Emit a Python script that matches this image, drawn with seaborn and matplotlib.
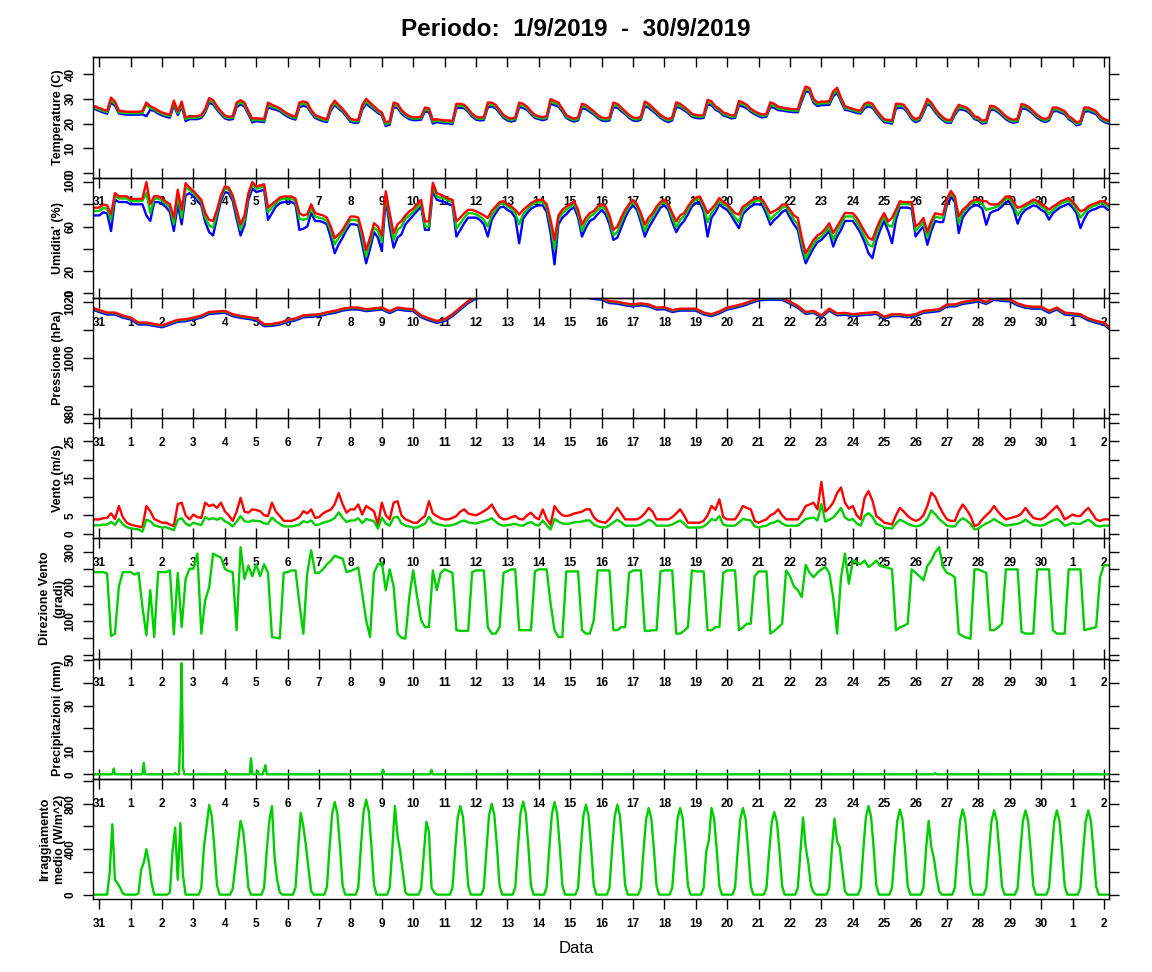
import numpy as np
import matplotlib
matplotlib.use('Agg')
import matplotlib.pyplot as plt
import seaborn as sns

sns.set_theme(style='ticks')
plt.rcParams['font.family'] = ['Liberation Sans', 'DejaVu Sans']
plt.rcParams['font.weight'] = 'bold'
plt.rcParams['text.color'] = 'black'
plt.rcParams['axes.labelcolor'] = 'black'
plt.rcParams['xtick.color'] = 'black'
plt.rcParams['ytick.color'] = 'black'

# giorni contati dal 31/8/2019 00:00
t3 = np.arange(-0.25, 32.25 + 1e-9, 0.125)    # ogni 3 ore
t6 = np.arange(-0.25, 32.25 + 1e-9, 0.25)     # ogni 6 ore
day_labels = ['31'] + [str(d) for d in range(1, 31)] + ['1', '2']

# ---- Temperatura (C), righe = giorni, ore 0,3,6,...,21 ----
temp_max = [27.2, 27.0,
    26.3, 25.7, 25.2, 30.5, 28.9, 25.3, 25.0, 24.8,
    24.8, 24.8, 24.8, 25.0, 28.5, 27.0, 26.3, 25.3,
    24.5, 24.0, 23.6, 29.3, 25.0, 28.9, 22.5, 23.0,
    23.0, 23.0, 23.5, 26.0, 30.3, 29.5, 27.0, 25.0,
    23.3, 22.8, 23.0, 28.5, 29.5, 28.5, 25.0, 22.0,
    22.2, 22.0, 21.8, 28.5, 27.6, 27.0, 26.2, 25.0,
    24.0, 23.3, 22.8, 28.5, 29.0, 28.5, 25.5, 23.5,
    22.8, 22.2, 21.8, 27.0, 29.3, 27.5, 26.0, 24.0,
    22.0, 21.5, 21.6, 27.5, 30.0, 28.5, 27.0, 25.5,
    24.5, 20.5, 21.0, 28.5, 28.0, 25.5, 24.0, 23.0,
    22.6, 22.6, 22.8, 26.5, 26.2, 21.5, 21.8, 21.5,
    21.3, 21.3, 21.0, 28.0, 28.0, 27.6, 26.0, 24.0,
    22.8, 22.5, 22.6, 28.5, 28.5, 27.6, 25.5, 23.5,
    22.5, 22.0, 22.5, 28.5, 28.0, 26.9, 25.0, 23.5,
    23.0, 22.6, 23.0, 29.9, 29.2, 28.5, 26.0, 23.5,
    22.6, 22.0, 22.5, 28.0, 27.5, 26.2, 25.0, 23.5,
    22.5, 22.2, 22.5, 28.5, 28.0, 26.5, 25.0, 23.5,
    22.5, 22.2, 22.8, 28.9, 28.0, 26.5, 25.0, 23.5,
    22.5, 21.8, 22.5, 28.6, 28.0, 26.8, 25.5, 24.0,
    23.5, 23.3, 23.5, 29.6, 29.0, 27.0, 26.0, 24.5,
    24.0, 23.3, 23.5, 29.2, 28.5, 27.6, 26.0, 25.0,
    24.2, 23.7, 24.0, 28.6, 28.0, 26.8, 26.5, 26.2,
    26.0, 25.8, 25.8, 31.0, 35.0, 34.3, 30.0, 28.5,
    28.9, 28.9, 29.0, 33.0, 34.5, 30.5, 27.0, 26.5,
    26.0, 25.5, 25.3, 28.0, 28.6, 28.0, 25.5, 23.5,
    21.8, 21.5, 21.2, 28.0, 28.0, 27.6, 25.5, 23.0,
    21.8, 22.5, 26.0, 30.0, 28.5, 26.0, 24.0, 22.5,
    21.5, 21.5, 25.0, 27.6, 27.0, 26.5, 25.0, 23.0,
    22.5, 21.2, 21.5, 27.2, 27.0, 26.0, 24.5, 23.0,
    22.0, 21.5, 22.0, 27.9, 27.5, 26.5, 25.0, 23.5,
    22.5, 21.8, 22.5, 26.5, 26.5, 25.8, 25.0, 23.0,
    22.0, 20.5, 21.0, 26.5, 26.5, 25.8, 25.0, 23.0,
    21.9, 21.3, 21.0]
temp_mean = [26.6, 26.4,
    25.7, 25.1, 24.6, 29.4, 28.0, 24.7, 24.4, 24.2,
    24.2, 24.2, 24.2, 24.4, 27.4, 26.3, 25.7, 24.7,
    23.9, 23.4, 23.0, 28.2, 24.2, 27.8, 21.8, 22.4,
    22.4, 22.4, 22.9, 25.3, 29.3, 28.6, 26.3, 24.4,
    22.7, 22.2, 22.4, 27.5, 28.6, 27.6, 24.4, 21.3,
    21.6, 21.4, 21.2, 27.5, 26.8, 26.3, 25.6, 24.4,
    23.4, 22.7, 22.2, 27.5, 28.1, 27.6, 24.9, 22.9,
    22.2, 21.6, 21.2, 26.1, 28.4, 26.7, 25.4, 23.4,
    21.4, 20.9, 21.0, 26.5, 29.0, 27.6, 26.3, 24.9,
    23.9, 19.7, 20.3, 27.5, 27.2, 24.8, 23.4, 22.4,
    22.0, 22.0, 22.2, 25.7, 25.4, 20.8, 21.2, 20.9,
    20.7, 20.7, 20.4, 27.1, 27.2, 26.9, 25.4, 23.4,
    22.2, 21.9, 22.0, 27.5, 27.7, 26.9, 24.9, 22.9,
    21.9, 21.4, 21.9, 27.5, 27.2, 26.2, 24.4, 22.9,
    22.4, 22.0, 22.4, 28.9, 28.3, 27.7, 25.4, 22.9,
    22.0, 21.4, 21.9, 27.1, 26.7, 25.5, 24.4, 22.9,
    21.9, 21.6, 21.9, 27.5, 27.2, 25.8, 24.4, 22.9,
    21.9, 21.6, 22.2, 27.9, 27.2, 25.8, 24.4, 22.9,
    21.9, 21.2, 21.9, 27.6, 27.2, 26.1, 24.9, 23.4,
    22.9, 22.7, 22.9, 28.6, 28.2, 26.3, 25.4, 23.9,
    23.4, 22.7, 22.9, 28.2, 27.7, 26.9, 25.4, 24.4,
    23.6, 23.1, 23.4, 27.6, 27.2, 26.1, 25.9, 25.6,
    25.4, 25.2, 25.2, 30.0, 34.0, 33.4, 29.2, 27.8,
    28.2, 28.2, 28.3, 32.0, 33.5, 29.6, 26.3, 25.9,
    25.4, 24.9, 24.7, 27.1, 27.8, 27.2, 24.9, 22.9,
    21.2, 20.9, 20.6, 27.0, 27.2, 26.9, 24.9, 22.4,
    21.2, 21.9, 25.2, 29.0, 27.7, 25.3, 23.4, 21.9,
    20.9, 20.9, 24.2, 26.7, 26.3, 25.8, 24.4, 22.4,
    21.9, 20.6, 20.9, 26.3, 26.3, 25.3, 23.9, 22.4,
    21.4, 20.9, 21.4, 27.0, 26.8, 25.8, 24.4, 22.9,
    21.9, 21.2, 21.9, 25.7, 25.8, 25.1, 24.4, 22.4,
    21.4, 19.9, 20.4, 25.6, 25.8, 25.1, 24.4, 22.4,
    21.3, 20.7, 20.4]
temp_min = [26.0, 25.8,
    25.1, 24.5, 24.0, 28.5, 27.2, 24.1, 23.8, 23.6,
    23.6, 23.6, 23.6, 23.8, 23.0, 25.6, 25.1, 24.1,
    23.3, 22.8, 22.4, 27.4, 23.5, 27.0, 21.0, 21.8,
    21.8, 21.8, 22.3, 24.6, 28.4, 27.8, 25.6, 23.8,
    22.1, 21.6, 21.8, 26.6, 27.8, 26.8, 23.8, 20.5,
    21.0, 20.8, 20.6, 26.6, 26.0, 25.6, 25.0, 23.8,
    22.8, 22.1, 21.6, 26.6, 27.2, 26.8, 24.3, 22.3,
    21.6, 21.0, 20.6, 25.3, 27.6, 26.0, 24.8, 22.8,
    20.8, 20.3, 20.4, 25.6, 28.1, 26.8, 25.6, 24.3,
    23.3, 19.0, 19.6, 26.6, 26.4, 24.1, 22.8, 21.8,
    21.4, 21.4, 21.6, 24.9, 24.6, 20.0, 20.6, 20.3,
    20.1, 20.1, 19.8, 26.2, 26.4, 26.2, 24.8, 22.8,
    21.6, 21.3, 21.4, 26.6, 26.9, 26.2, 24.3, 22.3,
    21.3, 20.8, 21.3, 26.6, 26.4, 25.5, 23.8, 22.3,
    21.8, 21.4, 21.8, 28.0, 27.5, 26.9, 24.8, 22.3,
    21.4, 20.8, 21.3, 26.2, 25.9, 24.8, 23.8, 22.3,
    21.3, 21.0, 21.3, 26.6, 26.4, 25.1, 23.8, 22.3,
    21.3, 21.0, 21.6, 27.0, 26.4, 25.1, 23.8, 22.3,
    21.3, 20.6, 21.3, 26.7, 26.4, 25.4, 24.3, 22.8,
    22.3, 22.1, 22.3, 27.7, 27.4, 25.6, 24.8, 23.3,
    22.8, 22.1, 22.3, 27.3, 26.9, 26.2, 24.8, 23.8,
    23.0, 22.5, 22.8, 26.7, 26.4, 25.4, 25.3, 25.0,
    24.8, 24.6, 24.6, 29.0, 33.1, 32.6, 28.4, 27.1,
    27.5, 27.5, 27.6, 31.0, 32.6, 28.8, 25.6, 25.3,
    24.8, 24.3, 24.1, 26.2, 27.0, 26.4, 24.3, 22.3,
    20.6, 20.3, 20.0, 26.1, 26.4, 26.2, 24.3, 21.8,
    20.6, 21.3, 24.4, 28.1, 26.9, 24.6, 22.8, 21.3,
    20.3, 20.3, 23.5, 25.8, 25.6, 25.1, 23.8, 21.8,
    21.3, 20.0, 20.3, 25.4, 25.6, 24.6, 23.3, 21.8,
    20.8, 20.3, 20.8, 26.1, 26.0, 25.1, 23.8, 22.3,
    21.3, 20.6, 21.3, 24.9, 25.1, 24.4, 23.8, 21.8,
    20.8, 19.3, 19.8, 24.7, 25.1, 24.4, 23.8, 21.8,
    20.7, 20.1, 19.8]

# ---- Umidita' (%) ----
hum_max = [76.7, 77.0,
    77.0, 79.7, 79.0, 71.0, 90.0, 87.2, 87.2, 87.2,
    84.8, 84.8, 84.8, 85.0, 100.0, 80.0, 87.2, 87.2,
    85.4, 82.4, 80.0, 68.0, 93.0, 75.0, 99.0, 95.0,
    92.0, 88.0, 84.0, 72.0, 66.0, 65.0, 75.0, 88.0,
    96.0, 95.0, 88.0, 75.0, 62.0, 70.0, 90.0, 100.0,
    96.0, 97.0, 98.0, 77.0, 80.0, 83.0, 86.0, 87.0,
    87.0, 87.0, 85.0, 72.0, 70.0, 71.0, 80.0, 72.0,
    71.0, 70.0, 68.0, 60.0, 49.6, 53.0, 57.0, 63.0,
    69.0, 69.0, 68.0, 55.0, 39.0, 50.0, 63.0, 60.0,
    52.0, 91.7, 72.0, 54.0, 62.0, 65.0, 70.0, 73.6,
    76.0, 80.0, 84.0, 64.6, 64.6, 99.3, 90.0, 88.7,
    87.0, 85.0, 84.0, 64.6, 68.0, 72.0, 75.0, 75.0,
    73.7, 72.0, 70.0, 67.7, 74.0, 78.0, 82.0, 82.7,
    80.0, 78.0, 75.0, 70.7, 75.0, 78.0, 81.0, 83.0,
    84.0, 84.0, 80.0, 66.0, 48.0, 70.0, 75.0, 78.0,
    80.0, 82.7, 75.0, 61.6, 68.0, 72.0, 74.0, 78.0,
    80.0, 78.0, 70.0, 57.0, 60.0, 68.0, 75.0, 80.0,
    84.0, 80.0, 72.0, 61.6, 68.0, 72.0, 78.0, 82.0,
    84.0, 80.0, 72.0, 64.6, 70.0, 72.0, 78.0, 83.0,
    86.0, 87.0, 80.0, 72.0, 76.0, 80.0, 85.7, 82.0,
    80.0, 76.0, 72.0, 70.7, 78.0, 80.0, 83.0, 85.0,
    85.7, 84.0, 78.0, 72.0, 74.0, 76.0, 79.7, 80.0,
    75.0, 70.0, 67.7, 50.0, 36.0, 42.0, 48.0, 52.0,
    54.2, 58.0, 63.0, 54.2, 60.0, 66.0, 72.2, 72.0,
    72.0, 68.0, 62.0, 55.6, 50.0, 48.0, 58.0, 66.0,
    72.0, 64.6, 67.7, 75.0, 82.7, 82.0, 82.0, 82.0,
    60.0, 63.0, 67.7, 55.0, 65.0, 72.0, 71.0, 70.7,
    85.0, 92.0, 87.0, 69.0, 75.0, 78.0, 82.0, 84.0,
    84.2, 83.0, 82.7, 80.0, 79.7, 80.0, 83.0, 87.0,
    87.2, 82.0, 76.7, 78.0, 80.0, 82.0, 84.2, 83.0,
    80.0, 78.0, 75.2, 78.0, 80.0, 82.7, 84.0, 85.7,
    82.0, 78.0, 73.7, 75.0, 78.2, 80.0, 81.0, 82.7,
    82.7, 80.0, 79.7]
hum_mean = [73.7, 74.0,
    74.0, 76.7, 76.0, 66.0, 88.0, 85.2, 85.2, 85.2,
    82.8, 82.8, 82.8, 83.0, 90.0, 72.0, 85.2, 85.2,
    83.4, 80.4, 77.0, 62.0, 88.0, 68.0, 95.0, 93.0,
    90.0, 86.0, 82.0, 68.0, 61.0, 59.0, 72.0, 86.0,
    94.0, 93.0, 86.0, 72.0, 57.0, 66.0, 88.0, 98.0,
    94.0, 95.0, 96.0, 73.0, 77.0, 81.0, 84.0, 85.0,
    85.0, 85.0, 83.0, 67.0, 66.0, 67.0, 77.0, 69.0,
    68.0, 67.0, 65.0, 56.0, 44.0, 50.0, 54.0, 60.0,
    66.0, 66.0, 65.0, 50.0, 33.0, 46.0, 59.0, 56.0,
    46.0, 89.0, 67.0, 48.0, 57.0, 60.0, 67.0, 70.0,
    73.0, 77.0, 81.0, 60.0, 60.0, 96.0, 87.0, 86.0,
    85.0, 83.0, 82.0, 58.0, 63.0, 68.0, 72.0, 72.0,
    71.0, 69.0, 66.0, 60.0, 70.0, 75.0, 80.0, 81.0,
    78.0, 76.0, 72.0, 62.0, 71.0, 75.0, 79.0, 81.0,
    82.0, 82.0, 77.0, 61.0, 40.0, 67.0, 72.0, 75.0,
    78.0, 80.5, 72.0, 56.0, 64.0, 69.0, 71.0, 75.0,
    78.0, 75.0, 66.0, 52.0, 55.0, 64.0, 72.0, 78.0,
    82.0, 78.0, 68.0, 56.0, 64.0, 69.0, 75.0, 80.0,
    82.0, 78.0, 68.0, 59.0, 66.0, 69.0, 75.0, 81.0,
    84.0, 85.0, 77.0, 64.0, 72.0, 77.0, 83.0, 80.0,
    78.0, 73.0, 68.0, 64.0, 75.0, 78.0, 81.0, 83.0,
    83.5, 82.0, 75.0, 66.0, 70.0, 73.0, 77.0, 78.0,
    72.0, 66.0, 62.0, 45.0, 31.0, 38.0, 44.0, 49.0,
    51.0, 55.0, 60.0, 48.0, 56.0, 62.0, 69.0, 69.0,
    69.0, 64.0, 58.0, 51.0, 44.0, 42.0, 53.0, 62.0,
    69.0, 61.0, 60.0, 71.0, 80.5, 80.0, 80.0, 80.0,
    56.0, 60.0, 64.0, 50.0, 61.0, 69.0, 68.0, 68.0,
    83.0, 90.0, 85.0, 63.0, 72.0, 76.0, 80.0, 82.0,
    82.0, 80.0, 75.0, 76.0, 77.0, 78.0, 81.0, 85.0,
    85.0, 79.0, 70.0, 75.0, 78.0, 80.0, 82.0, 81.0,
    78.0, 76.0, 71.0, 75.0, 78.0, 80.5, 82.0, 83.5,
    80.0, 75.0, 68.0, 72.0, 76.0, 78.0, 79.0, 81.0,
    81.0, 78.0, 77.5]
hum_min = [69.7, 70.0,
    70.0, 72.7, 72.0, 56.0, 84.0, 82.0, 82.0, 82.0,
    80.0, 80.0, 80.0, 80.0, 70.0, 65.0, 82.0, 82.0,
    80.5, 77.5, 73.0, 56.0, 80.0, 62.0, 88.0, 90.0,
    87.0, 83.0, 79.0, 64.0, 55.0, 52.0, 68.0, 83.0,
    91.0, 90.0, 83.0, 67.0, 52.0, 61.0, 84.0, 94.0,
    91.0, 92.0, 93.0, 66.0, 72.0, 78.0, 81.0, 82.0,
    82.0, 82.0, 80.0, 57.0, 58.0, 60.0, 72.0, 65.0,
    65.0, 64.0, 62.0, 50.0, 36.0, 44.0, 50.0, 57.0,
    62.0, 62.0, 61.0, 44.0, 27.0, 40.0, 55.0, 50.0,
    38.0, 85.0, 60.0, 41.0, 50.0, 53.0, 62.0, 66.0,
    70.0, 74.0, 78.0, 57.0, 57.0, 92.0, 84.0, 83.0,
    82.0, 80.0, 79.0, 51.0, 57.0, 63.0, 68.0, 68.0,
    68.0, 66.0, 62.0, 51.0, 66.0, 72.0, 77.0, 78.0,
    75.0, 73.0, 68.0, 45.0, 67.0, 72.0, 76.0, 78.0,
    79.0, 79.0, 73.0, 54.0, 26.0, 62.0, 68.0, 71.0,
    75.0, 77.5, 68.0, 51.0, 59.0, 65.0, 67.0, 71.0,
    75.0, 71.0, 62.0, 48.0, 50.0, 59.0, 68.0, 75.0,
    79.0, 75.0, 64.0, 51.0, 59.0, 65.0, 71.0, 77.0,
    79.0, 75.0, 64.0, 55.0, 61.0, 65.0, 71.0, 78.0,
    81.0, 82.0, 73.0, 51.0, 68.0, 73.0, 80.0, 77.0,
    75.0, 70.0, 64.0, 58.6, 71.0, 75.0, 78.0, 80.0,
    80.0, 79.0, 71.0, 61.6, 66.0, 69.0, 73.0, 75.0,
    68.0, 62.0, 57.0, 40.0, 27.0, 34.0, 40.6, 46.0,
    48.0, 52.0, 56.0, 42.0, 51.0, 57.0, 65.0, 65.0,
    65.0, 60.0, 54.0, 46.0, 36.0, 31.6, 47.0, 57.0,
    65.0, 56.0, 45.0, 66.0, 77.0, 77.0, 77.0, 76.0,
    51.1, 56.0, 60.0, 43.6, 56.0, 65.0, 64.0, 64.0,
    80.0, 87.0, 82.0, 54.2, 68.0, 73.0, 77.0, 79.0,
    79.0, 76.0, 61.6, 72.0, 74.0, 75.0, 78.0, 82.0,
    82.0, 75.0, 62.6, 71.0, 75.0, 77.0, 79.0, 78.0,
    75.0, 73.0, 66.2, 72.0, 75.0, 77.5, 79.0, 80.5,
    77.0, 72.0, 58.6, 67.0, 73.0, 75.0, 76.0, 78.0,
    78.0, 75.0, 74.5]

# ---- Pressione (hPa), ore 0,6,12,18 ----
pres_max = [1018.2,
    1017.2, 1016.3, 1016.3, 1015.2,  1014.5, 1012.7, 1012.7, 1012.2,
    1011.7, 1012.7, 1013.7, 1013.9,  1014.5, 1015.2, 1016.5, 1016.7,
    1016.9, 1015.7, 1015.1, 1014.7,  1014.2, 1012.1, 1012.2, 1012.7,
    1013.6, 1014.2, 1015.3, 1015.5,  1015.7, 1016.4, 1016.9, 1017.7,
    1018.1, 1018.1, 1017.5, 1017.8,  1018.1, 1016.8, 1018.1, 1017.7,
    1017.5, 1015.3, 1014.2, 1013.3,  1013.9, 1015.7, 1018.1, 1020.4,
    1022.0, 1022.8, 1023.2, 1023.6,  1023.8, 1023.6, 1023.2, 1023.4,
    1023.7, 1023.2, 1022.8, 1023.0,  1023.1, 1022.7, 1022.4, 1021.9,
    1021.6, 1020.4, 1020.2, 1019.6,  1019.2, 1019.6, 1019.2, 1018.1,
    1018.2, 1017.2, 1017.7, 1017.7,  1017.7, 1016.3, 1015.7, 1016.7,
    1018.1, 1018.7, 1019.4, 1020.4,  1021.4, 1021.6, 1021.6, 1021.6,
    1020.2, 1018.7, 1016.5, 1016.9,  1015.3, 1017.7, 1016.0, 1016.2,
    1015.7, 1016.0, 1016.2, 1016.5,  1014.8, 1015.7, 1015.7, 1015.3,
    1015.7, 1016.9, 1017.2, 1017.5,  1019.2, 1019.2, 1020.1, 1020.5,
    1021.0, 1020.1, 1021.6, 1021.2,  1021.0, 1019.6, 1018.7, 1018.4,
    1018.4, 1016.9, 1018.1, 1016.3,  1016.0, 1015.7, 1014.2, 1013.3,
    1012.7, 1010.3]
pres_mean = [1018.0,
    1017.0, 1016.1, 1016.1, 1015.0,  1014.3, 1012.5, 1012.5, 1012.0,
    1011.5, 1012.5, 1013.5, 1013.7,  1014.3, 1015.0, 1016.3, 1016.5,
    1016.7, 1015.5, 1014.9, 1014.5,  1014.0, 1011.9, 1012.0, 1012.5,
    1013.4, 1014.0, 1015.1, 1015.3,  1015.5, 1016.2, 1016.7, 1017.5,
    1017.9, 1017.9, 1017.3, 1017.6,  1017.9, 1016.6, 1017.9, 1017.5,
    1017.3, 1015.1, 1014.0, 1013.1,  1013.7, 1015.5, 1017.9, 1020.2,
    1021.8, 1022.6, 1023.0, 1023.4,  1023.6, 1023.4, 1023.0, 1023.2,
    1023.5, 1023.0, 1022.6, 1022.8,  1022.9, 1022.5, 1022.2, 1021.7,
    1021.4, 1020.2, 1020.0, 1019.4,  1019.0, 1019.4, 1019.0, 1017.9,
    1018.0, 1017.0, 1017.5, 1017.5,  1017.5, 1016.1, 1015.5, 1016.5,
    1017.9, 1018.5, 1019.2, 1020.2,  1021.2, 1021.4, 1021.4, 1021.4,
    1020.0, 1018.5, 1016.3, 1016.7,  1015.1, 1017.5, 1015.8, 1016.0,
    1015.5, 1015.8, 1016.0, 1016.3,  1014.6, 1015.5, 1015.5, 1015.1,
    1015.5, 1016.7, 1017.0, 1017.3,  1019.0, 1019.0, 1019.9, 1020.3,
    1020.8, 1019.9, 1021.4, 1021.0,  1020.8, 1019.4, 1018.5, 1018.2,
    1018.2, 1016.7, 1017.9, 1016.1,  1015.8, 1015.5, 1014.0, 1013.1,
    1012.5, 1010.1]
pres_min = [1017.5,
    1016.5, 1015.6, 1015.6, 1014.5,  1013.8, 1012.0, 1012.0, 1011.5,
    1011.0, 1012.0, 1013.0, 1013.2,  1013.8, 1014.5, 1015.8, 1016.0,
    1016.2, 1015.0, 1014.4, 1014.0,  1013.5, 1011.4, 1011.5, 1012.0,
    1012.9, 1013.5, 1014.6, 1014.8,  1015.0, 1015.7, 1016.2, 1017.0,
    1017.4, 1017.4, 1016.8, 1017.1,  1017.4, 1016.1, 1017.4, 1017.0,
    1016.8, 1014.6, 1013.5, 1012.6,  1013.2, 1015.0, 1017.4, 1019.7,
    1021.3, 1022.1, 1022.5, 1022.9,  1023.1, 1022.9, 1022.5, 1022.7,
    1023.0, 1022.5, 1022.1, 1022.3,  1022.4, 1022.0, 1021.7, 1021.2,
    1020.9, 1019.7, 1019.5, 1018.9,  1018.5, 1018.9, 1018.5, 1017.4,
    1017.5, 1016.5, 1017.0, 1017.0,  1017.0, 1015.6, 1015.0, 1016.0,
    1017.4, 1018.0, 1018.7, 1019.7,  1020.7, 1020.9, 1020.9, 1020.9,
    1019.5, 1018.0, 1015.8, 1016.2,  1014.6, 1017.0, 1015.3, 1015.5,
    1015.0, 1015.3, 1015.5, 1015.8,  1014.1, 1015.0, 1015.0, 1014.6,
    1015.0, 1016.2, 1016.5, 1016.8,  1018.5, 1018.5, 1019.4, 1019.8,
    1020.3, 1019.4, 1020.9, 1020.5,  1020.3, 1018.9, 1018.0, 1017.7,
    1017.7, 1016.2, 1017.4, 1015.6,  1015.3, 1015.0, 1013.5, 1012.6,
    1012.0, 1009.6]

# ---- Vento (m/s): raffica e media, ogni 3 ore ----
wind_gust = [3.9, 3.9,
    3.9, 4.2, 4.3, 5.5, 4.0, 7.5, 4.5, 3.0,
    2.5, 2.2, 2.0, 1.8, 7.5, 6.1, 4.0, 3.5,
    3.0, 3.0, 2.5, 2.1, 8.0, 8.4, 5.0, 3.9,
    5.2, 4.5, 4.3, 8.4, 7.5, 7.9, 7.0, 8.4,
    6.1, 5.0, 3.5, 6.0, 9.7, 6.0, 5.7, 6.6,
    6.4, 6.1, 5.0, 4.8, 8.4, 6.0, 4.8, 3.5,
    3.5, 3.5, 3.9, 4.5, 6.1, 5.5, 6.6, 4.3,
    4.5, 5.5, 6.1, 6.5, 8.0, 11.0, 8.0, 5.7,
    6.6, 6.6, 7.9, 5.2, 7.5, 6.8, 6.1, 2.5,
    8.4, 5.0, 3.9, 8.4, 8.8, 5.0, 3.9, 3.5,
    3.0, 3.0, 4.0, 4.8, 8.8, 5.5, 4.8, 4.2,
    3.9, 3.9, 4.3, 4.8, 6.0, 6.6, 5.5, 5.2,
    5.0, 5.5, 6.1, 6.8, 7.9, 6.0, 4.5, 3.9,
    4.0, 4.5, 4.8, 4.0, 3.9, 5.0, 5.7, 4.5,
    3.9, 6.6, 4.0, 2.5, 7.5, 6.0, 5.0, 4.8,
    5.0, 5.5, 5.7, 6.0, 6.6, 6.6, 4.5, 3.5,
    3.2, 3.0, 4.0, 5.5, 7.0, 5.5, 3.9, 3.9,
    3.9, 3.9, 4.5, 5.5, 7.0, 6.0, 3.9, 3.9,
    3.9, 3.9, 4.5, 5.5, 6.6, 5.0, 3.0, 3.0,
    3.0, 3.0, 3.5, 5.0, 7.5, 6.5, 9.3, 4.5,
    3.9, 3.9, 3.9, 5.5, 7.5, 7.0, 6.6, 3.5,
    3.0, 3.5, 3.9, 5.0, 5.5, 6.6, 5.0, 3.9,
    3.9, 3.9, 3.9, 5.5, 7.5, 7.9, 8.4, 6.6,
    14.0, 6.0, 7.0, 8.4, 11.0, 12.5, 8.4, 6.8,
    7.5, 5.0, 3.9, 9.7, 11.5, 9.0, 4.8, 4.0,
    3.0, 2.8, 2.5, 5.0, 7.0, 6.0, 4.8, 4.0,
    3.5, 3.9, 5.0, 7.5, 11.1, 10.0, 7.5, 5.5,
    3.9, 3.5, 3.5, 6.1, 7.9, 6.5, 4.8, 2.1,
    2.5, 3.9, 5.0, 6.0, 7.5, 6.0, 4.8, 3.9,
    4.2, 4.5, 4.8, 5.5, 7.0, 5.5, 4.3, 4.0,
    3.9, 4.5, 5.5, 6.5, 7.5, 6.0, 3.9, 4.5,
    5.2, 4.8, 4.8, 6.0, 7.0, 5.5, 3.9, 3.5,
    3.9, 3.9, 3.9]
wind_mean = [2.3, 2.3,
    2.3, 2.5, 2.5, 3.2, 2.4, 4.0, 2.6, 1.8,
    1.5, 1.3, 1.2, 0.6, 3.8, 3.4, 2.3, 2.0,
    1.7, 1.8, 1.4, 1.0, 3.8, 4.2, 2.8, 2.2,
    3.0, 2.6, 2.4, 4.5, 3.9, 4.2, 3.8, 4.3,
    3.4, 2.9, 2.0, 3.3, 4.8, 3.4, 3.2, 3.6,
    3.5, 3.4, 2.8, 2.7, 4.4, 3.4, 2.7, 2.0,
    2.0, 2.0, 2.2, 2.5, 3.4, 3.1, 3.6, 2.4,
    2.5, 3.0, 3.3, 3.6, 4.3, 5.8, 4.3, 3.2,
    3.6, 3.6, 4.2, 2.9, 4.0, 3.7, 3.4, 1.4,
    4.4, 2.8, 2.2, 4.4, 4.6, 2.8, 2.2, 2.0,
    1.7, 1.7, 2.3, 2.7, 4.6, 3.1, 2.7, 2.4,
    2.2, 2.2, 2.4, 2.7, 3.3, 3.6, 3.1, 2.9,
    2.8, 3.1, 3.4, 3.7, 4.2, 3.3, 2.5, 2.2,
    2.3, 2.5, 2.7, 2.3, 2.2, 2.8, 3.2, 2.5,
    2.2, 3.6, 2.3, 1.2, 4.0, 3.3, 2.8, 2.7,
    2.8, 3.1, 3.2, 3.3, 3.6, 3.6, 2.5, 2.0,
    1.8, 1.7, 2.3, 3.1, 3.8, 3.1, 2.2, 2.2,
    2.2, 2.2, 2.5, 3.1, 3.8, 3.3, 2.2, 2.2,
    2.2, 2.2, 2.5, 3.1, 3.6, 2.8, 1.7, 1.7,
    1.7, 1.7, 2.0, 2.8, 4.0, 3.6, 4.8, 2.5,
    2.2, 2.2, 2.2, 3.1, 4.0, 3.8, 3.6, 2.0,
    1.7, 2.0, 2.2, 2.8, 3.1, 3.6, 2.8, 2.2,
    2.2, 2.2, 2.2, 3.1, 4.0, 4.2, 4.4, 3.6,
    8.0, 3.3, 3.8, 4.4, 5.6, 7.0, 4.4, 3.7,
    4.0, 2.8, 2.2, 4.8, 5.6, 4.6, 2.7, 2.3,
    1.7, 1.6, 1.4, 2.8, 3.8, 3.3, 2.7, 2.3,
    2.0, 2.2, 2.8, 4.0, 6.3, 5.3, 4.0, 3.1,
    2.2, 2.0, 2.0, 3.4, 4.2, 3.6, 2.7, 1.2,
    1.4, 2.2, 2.8, 3.3, 4.0, 3.3, 2.7, 2.2,
    2.4, 2.5, 2.7, 3.1, 3.8, 3.1, 2.4, 2.3,
    2.2, 2.5, 3.1, 3.6, 4.0, 3.3, 2.2, 2.5,
    2.9, 2.7, 2.7, 3.3, 3.8, 3.1, 2.2, 2.0,
    2.2, 2.2, 2.2]

# ---- Direzione vento (gradi), ogni 3 ore ----
wind_dir = [242, 242,
    242, 242, 238, 55, 62, 200, 242, 242,
    242, 235, 240, 140, 57, 189, 52, 242,
    242, 242, 247, 60, 240, 81, 222, 252,
    252, 296, 62, 160, 198, 296, 290, 285,
    252, 245, 242, 72, 315, 222, 261, 230,
    265, 230, 265, 240, 52, 50, 48, 240,
    242, 247, 247, 150, 62, 240, 306, 240,
    240, 250, 265, 275, 290, 285, 282, 242,
    245, 250, 255, 180, 101, 52, 240, 265,
    270, 189, 250, 200, 62, 50, 47, 169,
    247, 169, 101, 81, 81, 247, 189, 240,
    250, 245, 240, 72, 70, 70, 70, 242,
    247, 247, 247, 81, 62, 62, 81, 240,
    245, 250, 250, 72, 72, 72, 72, 244,
    250, 250, 250, 150, 72, 52, 52, 244,
    244, 244, 244, 72, 62, 62, 101, 247,
    247, 247, 247, 72, 72, 81, 81, 240,
    247, 247, 247, 70, 70, 72, 72, 244,
    247, 247, 247, 62, 62, 70, 81, 247,
    244, 244, 244, 72, 72, 81, 81, 240,
    247, 247, 247, 72, 80, 91, 91, 230,
    244, 244, 244, 62, 70, 80, 91, 247,
    230, 200, 189, 169, 263, 240, 227, 240,
    250, 257, 240, 169, 62, 227, 296, 208,
    276, 270, 265, 276, 257, 265, 276, 260,
    257, 255, 250, 72, 80, 85, 91, 250,
    240, 230, 218, 260, 276, 300, 315, 257,
    240, 235, 227, 62, 55, 50, 47, 250,
    250, 245, 240, 72, 72, 80, 91, 250,
    250, 250, 250, 67, 62, 62, 62, 250,
    250, 250, 250, 72, 62, 62, 62, 250,
    250, 250, 250, 72, 75, 78, 81, 227,
    262, 262, 262]

# ---- Precipitazioni (mm): ore dal 31/8 00:00 con pioggia ----
rain_hour = [11, 34, 58, 62, 63, 64, 97, 116, 121, 126, 127, 217, 254, 639]
rain_mm = [2.5, 5.0, 0.5, 20.0, 48.5, 3.0, 1.2, 7.0, 1.5, 2.0, 4.0, 2.0, 2.0, 0.5]

# ---- Irraggiamento medio (W/m^2), ore 6,8,...,18 di ogni giorno ----
rad_day = [
    [0, 200, 620, 130, 100, 60, 10],
    [10, 220, 280, 400, 280, 100, 0],
    [20, 380, 590, 130, 630, 170, 0],
    [60, 420, 600, 790, 690, 410, 80],
    [50, 250, 450, 650, 560, 330, 60],
    [60, 380, 650, 780, 330, 130, 20],
    [60, 400, 720, 600, 430, 220, 30],
    [65, 410, 710, 815, 715, 425, 80],
    [65, 420, 725, 836, 735, 435, 85],
    [60, 400, 780, 520, 380, 200, 20],
    [50, 350, 640, 560, 60, 20, 0],
    [60, 390, 680, 780, 685, 405, 78],
    [60, 400, 700, 800, 700, 420, 80],
    [65, 410, 715, 820, 720, 425, 80],
    [65, 410, 710, 815, 715, 425, 80],
    [60, 395, 690, 792, 695, 410, 80],
    [60, 395, 690, 792, 695, 410, 80],
    [60, 380, 665, 762, 670, 395, 75],
    [60, 380, 665, 762, 670, 395, 75],
    [60, 380, 480, 762, 670, 395, 75],
    [60, 380, 665, 762, 670, 395, 75],
    [58, 365, 635, 727, 640, 380, 72],
    [60, 380, 680, 420, 280, 80, 20],
    [60, 400, 670, 470, 420, 220, 30],
    [60, 390, 680, 780, 685, 405, 78],
    [60, 375, 650, 750, 660, 390, 75],
    [60, 400, 650, 420, 320, 160, 30],
    [60, 375, 650, 750, 660, 390, 75],
    [60, 370, 645, 741, 650, 385, 74],
    [60, 370, 645, 741, 650, 385, 74],
    [60, 370, 645, 741, 650, 385, 74],
    [60, 370, 645, 741, 650, 385, 74]]

# serie orarie costruite dai dati sopra
th = np.arange(-6, 775) / 24
rain = np.zeros(len(th))
rain[np.array(rain_hour) + 6] = rain_mm

rad_t, rad_v = [-0.25], [0]
for d, row in enumerate(rad_day):
    for hh, v in zip(range(0, 24, 2), [0, 0, 0] + row + [0, 0]):
        rad_t.append(d + hh / 24)
        rad_v.append(v)
rad_t += [32, 32.25]
rad_v += [0, 0]

BLUE, GREEN, RED = '#0000FF', '#00CD00', '#FF0000'
LW = 1.7

fig = plt.figure(figsize=(11.52, 9.72), dpi=100)
left, width = 93.3 / 1152, 1016 / 1152
top0, h = 57.3, 120.25
axes = []
for i in range(7):
    bottom = 1 - (top0 + h * (i + 1)) / 972
    ax = fig.add_axes([left, bottom, width, h / 972])
    ax.set_facecolor('none')
    axes.append(ax)

def line(ax, x, y, c):
    sns.lineplot(x=x, y=y, ax=ax, color=c, linewidth=LW, errorbar=None)

line(axes[0], t3, temp_min, BLUE)
line(axes[0], t3, temp_mean, GREEN)
line(axes[0], t3, temp_max, RED)
line(axes[1], t3, hum_min, BLUE)
line(axes[1], t3, hum_mean, GREEN)
line(axes[1], t3, hum_max, RED)
line(axes[2], t6, pres_min, BLUE)
line(axes[2], t6, pres_mean, GREEN)
line(axes[2], t6, pres_max, RED)
line(axes[3], t3, wind_gust, RED)
line(axes[3], t3, wind_mean, GREEN)
line(axes[4], t3, wind_dir, GREEN)
line(axes[5], th, rain, GREEN)
line(axes[6], rad_t, rad_v, GREEN)

panels = [
    ((-1.8, 46.8), [0, 10, 20, 30, 40], ['0', '10', '20', '30', '40'], ['Temperature (C)']),
    ((-4, 104), [0, 20, 40, 60, 80, 100], ['0', '20', '', '60', '', '100'], ["Umidita' (%)"]),
    ((978.4, 1021.6), [980, 990, 1000, 1010, 1020], ['980', '', '1000', '', '1020'], ['Pressione (hPa)']),
    ((-1.2, 31.2), [0, 5, 10, 15, 20, 25, 30], ['0', '5', '', '15', '', '25', ''], ['Vento (m/s)']),
    ((-11, 341), [0, 50, 100, 150, 200, 250, 300], ['', '', '100', '', '200', '', '300'], ['Direzione Vento', '(gradi)']),
    ((-1.95, 50.5), [0, 10, 20, 30, 40, 50], ['0', '10', '', '30', '', '50'], ['Precipitazioni (mm)']),
    ((-39, 1020), [0, 200, 400, 600, 800, 1000], ['0', '', '400', '', '800', ''], ['Irraggiamento', 'medio (W/m^2)']),
]

for i, (ax, (ylim, yt, yl, ylab)) in enumerate(zip(axes, panels)):
    last = i == 6
    ax.set_xlim(-0.19, 32.17)
    ax.set_ylim(*ylim)
    ax.set_xlabel('')
    ax.set_ylabel('')
    ax.set_xticks(range(33))
    ax.set_xticklabels(day_labels)
    ax.set_yticks(yt)
    ax.set_yticklabels(yl)
    for lab in ax.get_yticklabels():
        lab.set_rotation(90)
        lab.set_va('center')
    ax.tick_params(axis='x', direction='out' if last else 'inout',
                   length=7 if last else 14, width=1, pad=6.5,
                   labelsize=8.5, colors='black')
    ax.tick_params(axis='y', direction='out', length=7, width=1, pad=5,
                   labelsize=8.5, left=True, right=True, labelright=False,
                   colors='black')
    for s in ax.spines.values():
        s.set_visible(True)
        s.set_linewidth(1)
        s.set_color('black')
    # etichetta asse y, una riga o due
    if len(ylab) == 1:
        ax.text((58 - 93.3) / 1016, 0.5, ylab[0], transform=ax.transAxes,
                rotation=90, ha='center', va='center', fontsize=9)
    else:
        for txt, px in zip(ylab, [45, 59.5]):
            ax.text((px - 93.3) / 1016, 0.5, txt, transform=ax.transAxes,
                    rotation=90, ha='center', va='center', fontsize=9)

# tacche interne sul bordo superiore del primo pannello
top = axes[0].secondary_xaxis('top')
top.set_xticks(range(33))
top.tick_params(direction='in', length=7, width=1, labeltop=False)
top.spines['top'].set_linewidth(1)

fig.text(0.5, 1 - 29 / 972, 'Periodo:  1/9/2019  -  30/9/2019',
         ha='center', va='center', fontsize=17.5, weight='bold', color='black')
fig.text(0.5, 1 - 948 / 972, 'Data', ha='center', va='center',
         fontsize=12, weight='normal', color='black')

fig.savefig('out.png', dpi=100, facecolor='white')
